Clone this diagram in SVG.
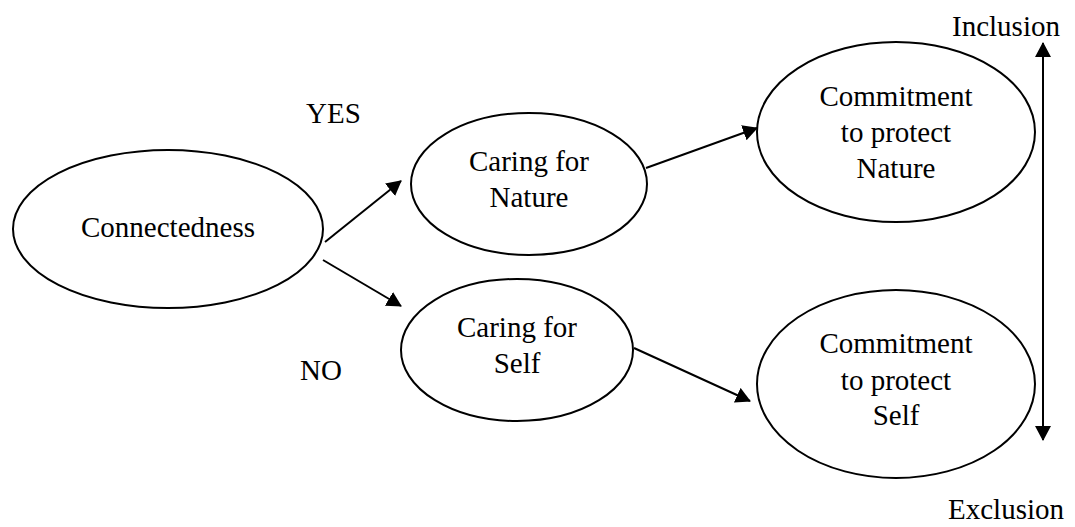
<svg xmlns="http://www.w3.org/2000/svg" width="1075" height="527" viewBox="0 0 1075 527">
<style>
.node ellipse{fill:#fff;stroke:#000;stroke-width:2}
text{font-size:29px;fill:#000;text-anchor:middle}
.lbl{text-anchor:start}
.conn line{stroke:#000;stroke-width:2;fill:none}
</style>
<defs>
<marker id="ah" markerUnits="userSpaceOnUse" markerWidth="17" markerHeight="17" refX="14" refY="8" orient="auto-start-reverse" viewBox="0 0 17 17">
<path d="M0,0 L15,8 L0,16 z" fill="#000"/>
</marker>
</defs>
<rect width="1075" height="527" fill="#fff"/>
<g font-family="'Liberation Serif', 'Times New Roman', Times, serif">
<g id="connectedness" class="node">
<ellipse cx="168" cy="229" rx="155" ry="79"/>
<text x="168" y="237">Connectedness</text>
</g>
<g id="caring-nature" class="node">
<ellipse cx="529" cy="184" rx="118" ry="71"/>
<text x="529" y="171">Caring for</text>
<text x="529" y="207">Nature</text>
</g>
<g id="caring-self" class="node">
<ellipse cx="517" cy="350" rx="116" ry="71"/>
<text x="517" y="337">Caring for</text>
<text x="517" y="373">Self</text>
</g>
<g id="commit-nature" class="node">
<ellipse cx="896" cy="132" rx="139" ry="90"/>
<text x="896" y="106">Commitment</text>
<text x="896" y="142">to protect</text>
<text x="896" y="178">Nature</text>
</g>
<g id="commit-self" class="node">
<ellipse cx="896" cy="384" rx="139" ry="94"/>
<text x="896" y="353">Commitment</text>
<text x="896" y="390">to protect</text>
<text x="896" y="425">Self</text>
</g>
<g id="connectors" class="conn">
<line x1="325" y1="242" x2="401" y2="181" marker-end="url(#ah)"/>
<line x1="323" y1="260" x2="401" y2="306" marker-end="url(#ah)"/>
<line x1="646" y1="168" x2="757" y2="128" marker-end="url(#ah)"/>
<line x1="634" y1="348" x2="750" y2="401" marker-end="url(#ah)"/>
<line x1="1043" y1="43" x2="1043" y2="440" marker-start="url(#ah)" marker-end="url(#ah)"/>
</g>
<g id="labels">
<text class="lbl" x="306" y="123">YES</text>
<text class="lbl" x="300" y="380">NO</text>
<text x="1006" y="36">Inclusion</text>
<text x="1006" y="519">Exclusion</text>
</g>
</g>
</svg>
